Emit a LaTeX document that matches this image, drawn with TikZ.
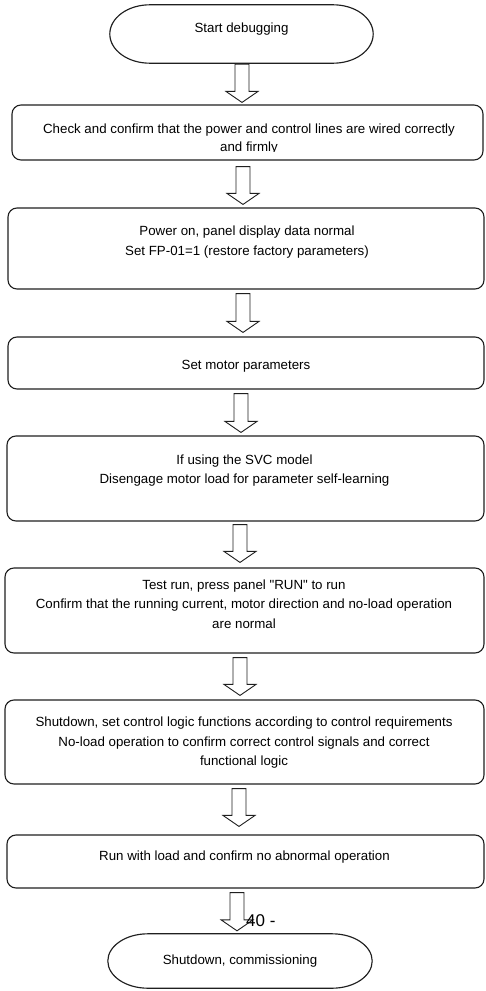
\documentclass[tikz,border=0pt]{standalone}
\usepackage{fontspec}
\setmainfont{Liberation Sans}[Ligatures=TeXOff]
\usetikzlibrary{calc,fit}
\tikzset{
  outline/.style={draw=black!88, line width=1.15pt},
  stepbox/.style={outline, rounded corners=9pt, inner sep=0pt},
  plainfit/.style={inner sep=0pt, draw=none},
  txt/.style={inner sep=0pt, align=center, font=\fontsize{13.3}{19.5}\selectfont},
  blkarrow/.style={draw=black!88, line width=0.9pt, line join=miter, fill=white},
}
% #1 centre x, #2 upper node, #3 lower node, #4 gap below upper, #5 gap above lower
\newcommand\blkarrow[5]{%
  \draw[blkarrow] let \p1=(#2.south), \p2=(#3.north),
      \n1={\y1-#4pt}, \n2={\y2+#5pt}, \n3={\y2+#5pt+11pt} in
    ({#1-7},\n1) -- ({#1+7},\n1) -- ({#1+7},\n3) -- ({#1+16},\n3)
    -- ({#1},\n2) -- ({#1-16},\n3) -- ({#1-7},\n3) -- cycle;}
\newcommand\stadiumoutline[1]{%
  \draw[outline] let \p1=(#1.north west), \p2=(#1.south east),
      \n1={0.5*(\y1-\y2)} in
    ({\x1+40pt},\y1) -- ({\x2-40pt},\y1)
    arc[start angle=90,end angle=-90,x radius=40pt,y radius=\n1]
    -- ({\x1+40pt},\y2)
    arc[start angle=270,end angle=90,x radius=40pt,y radius=\n1] -- cycle;}
\begin{document}
\begin{tikzpicture}[x=1pt,y=1pt]
\useasboundingbox (0,0) rectangle (485,-991);

% start terminal
\node[plainfit, fit={(110,-5) (373,-63)}] (s1) {};
\stadiumoutline{s1}
\node[txt] (t1) at (241.5,-29.5) {Start debugging};

% boxes
\node[stepbox, fit={(12,-105) (483,-160)}] (b2) {};
\begin{scope}
  \clip (0,-100) rectangle (485,-151.5);
  \node[txt, font=\fontsize{13.3}{18}\selectfont] (t2) at (249,-139)
    {Check and confirm that the power and control lines are wired correctly\\and firmly};
\end{scope}

\node[stepbox, fit={(8,-208) (484,-289)}] (b3) {};
\node[txt] (t3) at (247,-242)
  {Power on, panel display data normal\\Set FP-01=1 (restore factory parameters)};

\node[stepbox, fit={(8,-337) (484,-389)}] (b4) {};
\node[txt] (t4) at (246,-366) {Set motor parameters};

\node[stepbox, fit={(7,-436) (484,-521)}] (b5) {};
\node[txt] (t5) at (244.5,-470.5)
  {If using the SVC model\\Disengage motor load for parameter self-learning};

\node[stepbox, fit={(5,-568) (484,-653)}] (b6) {};
\node[txt] (t6) at (244,-604)
  {Test run, press panel "RUN" to run\\Confirm that the running current, motor direction and no-load operation\\are normal};

\node[stepbox, fit={(5,-700) (484,-784)}] (b7) {};
\node[txt] (t7) at (244,-743)
  {Shutdown, set control logic functions according to control requirements\\No-load operation to confirm correct control signals and correct\\functional logic};

\node[stepbox, fit={(7,-835) (484,-888)}] (b8) {};
\node[txt] (t8) at (244.5,-857) {Run with load and confirm no abnormal operation};

% end terminal
\node[plainfit, fit={(108,-934) (372,-988)}] (s9) {};
\stadiumoutline{s9}
\node[txt] (t9) at (240,-961.5) {Shutdown, commissioning};

% block arrows
\blkarrow{242}{s1}{b2}{1}{2}
\blkarrow{243}{b2}{b3}{6}{3}
\blkarrow{243}{b3}{b4}{4}{4}
\blkarrow{241}{b4}{b5}{4}{3}
\blkarrow{240}{b5}{b6}{3}{5}
\blkarrow{240}{b6}{b7}{4}{4}
\blkarrow{239}{b7}{b8}{4}{8}
\blkarrow{237}{b8}{s9}{4}{3}

% page number overlapping the last arrow
\node[inner sep=0pt, anchor=west, font=\fontsize{17}{17}\selectfont] (pg) at (246,-920.5) {40 -};
\end{tikzpicture}
\end{document}
